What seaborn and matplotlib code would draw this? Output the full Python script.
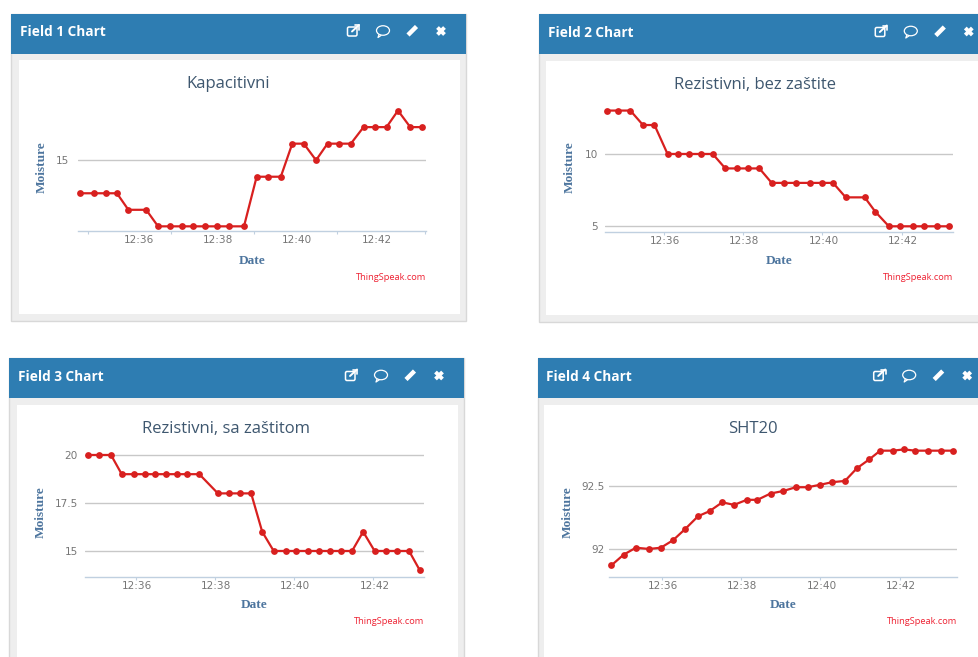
import matplotlib
matplotlib.use('Agg')
import matplotlib.pyplot as plt
from matplotlib.patches import Rectangle, Ellipse, FancyBboxPatch
import seaborn as sns
import pandas as pd

# minutes after 12:00
field1_minutes = [34.52, 34.85, 35.17, 35.44, 35.73, 36.18, 36.48, 36.77, 37.08, 37.36,
                  37.67, 37.96, 38.27, 38.65, 38.97, 39.25, 39.58, 39.87, 40.16, 40.47,
                  40.76, 41.06, 41.35, 41.67, 41.97, 42.25, 42.54, 42.85, 43.14]
field1_values = [13, 13, 13, 13, 12, 12, 11, 11, 11, 11, 11, 11, 11, 11, 14,
                 14, 14, 16, 16, 15, 16, 16, 16, 17, 17, 17, 18, 17, 17]

field2_minutes = [34.54, 34.82, 35.12, 35.44, 35.73, 36.06, 36.33, 36.61, 36.90, 37.20,
                  37.52, 37.81, 38.09, 38.38, 38.69, 39.00, 39.30, 39.65, 39.97, 40.24,
                  40.56, 41.04, 41.31, 41.65, 41.93, 42.25, 42.54, 42.86, 43.17]
field2_values = [13, 13, 13, 12, 12, 10, 10, 10, 10, 10, 9, 9, 9, 9, 8,
                 8, 8, 8, 8, 8, 7, 7, 6, 5, 5, 5, 5, 5, 5]

field3_minutes = [34.77, 35.04, 35.34, 35.61, 35.91, 36.19, 36.45, 36.72, 37.00, 37.27,
                  37.57, 38.04, 38.32, 38.60, 38.88, 39.16, 39.45, 39.75, 40.02, 40.32,
                  40.59, 40.88, 41.15, 41.43, 41.71, 42.00, 42.30, 42.57, 42.87, 43.14]
field3_values = [20, 20, 20, 19, 19, 19, 19, 19, 19, 19, 19, 18, 18, 18, 18,
                 16, 15, 15, 15, 15, 15, 15, 15, 15, 16, 15, 15, 15, 15, 14]

field4_minutes = [34.69, 35.00, 35.31, 35.64, 35.94, 36.25, 36.56, 36.88, 37.17, 37.49,
                  37.79, 38.11, 38.38, 38.71, 39.03, 39.35, 39.65, 39.97, 40.27, 40.59,
                  40.89, 41.20, 41.48, 41.80, 42.08, 42.37, 42.69, 43.01, 43.31]
field4_values = [91.87, 91.955, 92.01, 92.0, 92.01, 92.07, 92.16, 92.26, 92.30, 92.37,
                 92.35, 92.39, 92.39, 92.44, 92.46, 92.49, 92.49, 92.51, 92.53, 92.54,
                 92.64, 92.71, 92.78, 92.78, 92.79, 92.78, 92.78, 92.78, 92.78]

x_tick_minutes = [36, 38, 40, 42]
x_tick_labels = ['12:36', '12:38', '12:40', '12:42']
# field 1 has its little tick marks away from the labels
field1_marks = [34.70, 36.81, 38.91, 41.01, 43.22]
other_marks = [35.97, 37.97, 39.97, 41.97]

HEADER = '#2e7db2'
CARD = '#eeeeee'
EDGE = '#d8d8d8'
LINE = '#d8201f'
AXIS = '#c0d0e0'
GRID = '#c8c8c8'

# layout of each card, all in image pixels
panels = [
    dict(header='Field 1 Chart', title='Kapacitivni', minutes=field1_minutes, values=field1_values,
         yticks=[15], ylabels=['15'], xlim=(34.45, 43.24), ylim=(10.70, 18.64), marks=field1_marks,
         card=(11.5, 13.5, 466, 321), white=(19, 60, 460, 314), ypad=6,
         axes=(77.7, 100, 425.7, 231.3), title_xy=(227.7, 84), ylabel_x=41.7, date_y=260.5, mark_y=277),
    dict(header='Field 2 Chart', title='Rezistivni, bez zaštite', minutes=field2_minutes, values=field2_values,
         yticks=[5, 10], ylabels=['5', '10'], xlim=(34.48, 43.27), ylim=(4.585, 13.73), marks=other_marks,
         card=(539.3, 14, 985, 322), white=(546, 60.7, 985, 315), ypad=5,
         axes=(605, 100, 953, 232.3), title_xy=(755, 85), ylabel_x=569.5, date_y=261.5, mark_y=278),
    dict(header='Field 3 Chart', title='Rezistivni, sa zaštitom', minutes=field3_minutes, values=field3_values,
         yticks=[15, 17.5, 20], ylabels=['15', '17.5', '20'], xlim=(34.69, 43.24), ylim=(13.66, 20.52), marks=other_marks,
         card=(9.5, 358, 464, 665), white=(17, 404.7, 458, 665), ypad=5.3,
         axes=(85.3, 445, 423.7, 576.7), title_xy=(225.7, 429), ylabel_x=40.5, date_y=605.5, mark_y=622),
    dict(header='Field 4 Chart', title='SHT20', minutes=field4_minutes, values=field4_values,
         yticks=[92, 92.5], ylabels=['92', '92.5'], xlim=(34.63, 43.42), ylim=(91.78, 92.825), marks=other_marks,
         card=(537.7, 358, 985, 665), white=(544, 404.7, 985, 665), ypad=3.4,
         axes=(609, 445, 957, 576.7), title_xy=(753, 429), ylabel_x=567.5, date_y=605.5, mark_y=622),
]


def draw_icons(bg, left, cy):
    # external link
    x = left + 341.5
    bg.add_patch(FancyBboxPatch((x - 5.5, cy - 4), 9.5, 9, boxstyle='round,pad=0,rounding_size=1.5',
                                fc='none', ec='white', lw=1.1))
    bg.plot([x - 1, x + 6], [cy + 0.5, cy - 6], color='white', lw=1.4)
    bg.plot([x + 2, x + 6.5, x + 6.5], [cy - 6, cy - 6, cy - 1.5], color='white', lw=1.2)
    # comment
    x = left + 371.5
    bg.add_patch(Ellipse((x, cy - 0.5), 13, 9.5, fc='none', ec='white', lw=0.9))
    bg.plot([x - 4, x - 5, x - 2], [cy + 3.5, cy + 6.5, cy + 4.5], color='white', lw=0.9)
    # pencil
    x = left + 400.5
    bg.plot([x - 4, x + 4.5], [cy + 4, cy - 4.5], color='white', lw=3.2, solid_capstyle='butt')
    # close
    x = left + 429.5
    bg.plot([x - 3.5, x + 3.5], [cy - 3.5, cy + 3.5], color='white', lw=2.8, solid_capstyle='butt')
    bg.plot([x - 3.5, x + 3.5], [cy + 3.5, cy - 3.5], color='white', lw=2.8, solid_capstyle='butt')


sns.set_theme(style='white')
plt.rcParams['font.family'] = ['Open Sans', 'DejaVu Sans']

fig = plt.figure(figsize=(9.79, 6.57), dpi=100, facecolor='white')
bg = fig.add_axes([0, 0, 1, 1], zorder=0)
bg.set_xlim(0, 979)
bg.set_ylim(657, 0)
bg.axis('off')

for p in panels:
    x0, y0, x1, y1 = p['card']
    bg.add_patch(Rectangle((x0, y0), x1 - x0, y1 - y0, fc=CARD, ec=EDGE, lw=1))
    bg.add_patch(Rectangle((x0, y0), x1 - x0, 40.3, fc=HEADER, ec='none'))
    wx0, wy0, wx1, wy1 = p['white']
    bg.add_patch(Rectangle((wx0, wy0), wx1 - wx0, wy1 - wy0, fc='white', ec='none'))
    bg.text(x0 + 8.7, y0 + 18.6, p['header'], color='white', fontsize=9.8, fontweight='bold',
            ha='left', va='center')
    draw_icons(bg, x0, y0 + 17.5)

    left, top, right, bottom = p['axes']
    ax = fig.add_axes([left / 979, 1 - bottom / 657, (right - left) / 979, (bottom - top) / 657], zorder=1)
    ax.patch.set_visible(False)

    data = pd.DataFrame({'Date': p['minutes'], 'Moisture': p['values']})
    sns.lineplot(data=data, x='Date', y='Moisture', ax=ax, color=LINE, linewidth=1.6, marker='o',
                 markersize=4.9, markeredgewidth=0, clip_on=False, errorbar=None, zorder=3)

    ax.set_xlim(*p['xlim'])
    ax.set_ylim(*p['ylim'])
    ax.set_xticks(x_tick_minutes)
    ax.set_xticklabels(x_tick_labels)
    ax.set_xticks(p['marks'], minor=True)
    ax.set_yticks(p['yticks'])
    ax.set_yticklabels(p['ylabels'])
    ax.tick_params(axis='x', which='major', length=0, pad=2.8)
    ax.tick_params(axis='x', which='minor', bottom=True, length=2, width=0.8, color=AXIS)
    ax.tick_params(axis='y', length=0, pad=p['ypad'])
    for tick_label in ax.get_xticklabels() + ax.get_yticklabels():
        tick_label.set(family='DejaVu Sans', fontsize=7.6, color='#777777')
    ax.grid(True, axis='y', color=GRID, lw=1)
    ax.grid(False, axis='x')
    sns.despine(ax=ax, left=True, right=True, top=True)
    ax.spines['bottom'].set_color(AXIS)
    ax.spines['bottom'].set_linewidth(1)

    label_font = dict(family='Liberation Serif', fontweight='bold', color='#4d759e', fontsize=9.6)
    ax.set_xlabel('Date', **label_font)
    ax.set_ylabel('Moisture', **label_font)
    ax.xaxis.set_label_coords((left + right) / 2, p['date_y'], transform=bg.transData)
    ax.yaxis.set_label_coords(p['ylabel_x'], (top + bottom) / 2 + 1, transform=bg.transData)
    ax.xaxis.label.set_va('center')
    ax.yaxis.label.set_va('center')

    tx, ty = p['title_xy']
    ax.set_title(p['title'], x=(tx - left) / (right - left), y=(bottom - ty) / (bottom - top),
                 fontsize=12, color='#3e576f', va='center', pad=0)
    bg.text(right + 0.5, p['mark_y'], 'ThingSpeak.com', color='#ee2233', fontsize=6.7, ha='right', va='center')

fig.savefig('out.png', dpi=100)
